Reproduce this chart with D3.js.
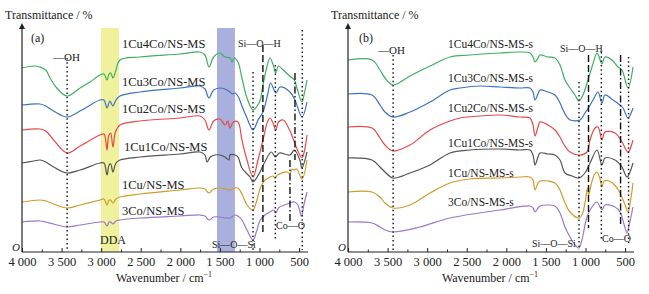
<!DOCTYPE html>
<html>
<head>
<meta charset="utf-8">
<script src="https://cdn.jsdelivr.net/npm/d3@7"></script>
<style>
body { margin: 0; background: #fff; }
text { font-family: "Liberation Serif", "DejaVu Serif", serif; fill: #222; }
</style>
</head>
<body>
<script>
// ---------- data: [wavenumber cm-1, transmittance (offset, a.u.)] ----------
var namesA = ["1Cu4Co/NS-MS", "1Cu3Co/NS-MS", "1Cu2Co/NS-MS", "1Cu1Co/NS-MS", "1Cu/NS-MS", "3Co/NS-MS"];
var namesB = ["1Cu4Co/NS-MS-s", "1Cu3Co/NS-MS-s", "1Cu2Co/NS-MS-s", "1Cu1Co/NS-MS-s", "1Cu/NS-MS-s", "3Co/NS-MS-s"];
var colors = ["#3fae61", "#3e72c4", "#e8484a", "#555555", "#d29b2b", "#9a78cc"];

var a_1Cu4Co = [[4000,184],[3850,186],[3773,185],[3700,182],[3646,174],[3560,164],[3432,156],[3267,164],[3141,170],[3015,177],[2964,178],[2926,172],[2900,178],[2880,179],[2851,174],[2813,182],[2762,192],[2510,195],[2004,198],[1752,200],[1689,197],[1638,185],[1580,195],[1500,199],[1436,195],[1373,194],[1347,190],[1320,194],[1272,190],[1222,174],[1158,154],[1082,142],[1030,146],[990,152],[956,167],[910,184],[868,194],[830,188],[795,179],[760,186],[700,182],[620,176],[560,172],[520,162],[465,150],[430,160],[400,172]];
var a_1Cu3Co = [[4000,147],[3773,148],[3700,146],[3600,141],[3432,135],[3267,141],[3015,152],[2964,152],[2926,144],[2890,151],[2851,146],[2813,152],[2762,156],[2510,160],[2004,164],[1752,166],[1689,163],[1638,154],[1580,162],[1500,164],[1436,163],[1373,160],[1347,158],[1310,159],[1272,156],[1222,146],[1158,134],[1082,122],[1019,132],[956,140],[893,159],[860,169],[792,159],[741,165],[615,160],[552,152],[463,135],[400,150]];
var a_1Cu2Co = [[4000,122],[3773,123],[3700,121],[3600,112],[3432,99],[3267,106],[3015,117],[2964,118],[2940,110],[2926,102],[2905,116],[2880,119],[2851,105],[2820,120],[2762,127],[2510,131],[2004,134],[1752,136],[1689,132],[1638,122],[1580,131],[1500,133],[1436,127],[1400,131],[1373,124],[1330,130],[1272,130],[1222,112],[1158,92],[1082,75],[1019,92],[956,112],[900,130],[868,134],[835,130],[792,122],[760,130],[700,132],[620,122],[560,110],[520,102],[463,94],[430,102],[400,117]];
var a_1Cu1Co = [[4000,89],[3850,91],[3773,92],[3700,90],[3600,85],[3432,79],[3267,82],[3015,89],[2964,89],[2926,77],[2900,87],[2880,88],[2851,80],[2813,89],[2762,92],[2510,95],[2004,98],[1752,100],[1689,97],[1663,90],[1620,95],[1562,97],[1500,97],[1436,95],[1385,92],[1373,97],[1310,97],[1272,95],[1222,84],[1120,75],[1082,70],[1000,79],[940,89],[850,100],[800,95],[750,99],[615,97],[560,102],[490,92],[465,84],[400,100]];
var a_1Cu = [[4000,50],[3773,52],[3700,51],[3600,48],[3432,44],[3267,47],[3015,52],[2964,53],[2926,47],[2900,52],[2880,52],[2851,49],[2813,53],[2762,55],[2510,58],[2004,62],[1752,64],[1689,63],[1638,59],[1580,63],[1500,64],[1436,63],[1373,62],[1310,64],[1272,64],[1222,58],[1158,47],[1082,42],[1040,50],[990,64],[930,72],[868,75],[830,76],[800,74],[770,77],[650,80],[615,78],[590,83],[560,82],[530,83],[463,73],[400,92]];
var a_3Co = [[4000,30],[3773,31],[3700,30],[3600,28],[3432,25],[3267,27],[3015,30],[2964,30],[2926,26],[2900,30],[2880,30],[2851,28],[2813,31],[2762,32],[2510,34],[2004,36],[1752,37],[1689,36],[1638,32],[1580,35],[1500,35],[1436,34],[1373,34],[1310,37],[1272,36],[1222,32],[1158,22],[1082,12],[1040,20],[990,32],[930,37],[868,40],[820,42],[792,39],[760,44],[650,48],[560,50],[515,47],[470,36],[440,47],[400,60]];

var b_1Cu4Co = [[4000,192],[3697,192],[3596,182],[3533,174],[3432,167],[3217,176],[2964,186],[2712,195],[2459,197],[2080,199],[1828,200],[1701,199],[1663,195],[1638,190],[1600,194],[1575,197],[1474,195],[1386,194],[1322,187],[1259,172],[1196,164],[1133,157],[1082,151],[1032,157],[969,172],[918,185],[855,199],[842,198],[792,188],[754,195],[665,192],[589,185],[539,182],[463,164],[400,185]];
var b_1Cu3Co = [[4000,158],[3697,157],[3596,147],[3533,140],[3432,135],[3217,140],[2964,150],[2712,162],[2585,164],[2333,166],[2080,165],[1828,164],[1701,164],[1663,160],[1638,152],[1600,158],[1575,162],[1474,160],[1386,157],[1322,149],[1284,142],[1234,135],[1196,132],[1070,132],[1007,139],[956,145],[905,152],[842,160],[792,149],[754,157],[653,152],[564,147],[526,144],[463,134],[400,144]];
var b_1Cu2Co = [[4000,125],[3697,124],[3596,114],[3533,107],[3432,101],[3217,107],[2964,122],[2712,131],[2585,134],[2333,136],[2080,137],[1828,135],[1701,134],[1663,127],[1638,116],[1600,125],[1575,130],[1474,127],[1386,122],[1322,115],[1284,109],[1196,100],[1070,97],[981,100],[943,112],[880,124],[842,125],[792,112],[754,120],[627,119],[539,110],[463,100],[400,112]];
var b_1Cu1Co = [[4000,94],[3697,92],[3596,85],[3533,80],[3432,74],[3217,79],[2964,87],[2712,99],[2459,102],[2080,103],[1828,102],[1701,102],[1663,97],[1638,87],[1600,95],[1575,99],[1474,98],[1386,97],[1322,92],[1259,79],[1171,76],[1082,74],[1007,79],[943,89],[855,102],[792,87],[754,94],[627,92],[539,85],[476,75],[400,89]];
var b_1Cu = [[4000,60],[3697,60],[3596,55],[3533,49],[3432,44],[3217,47],[2964,59],[2712,69],[2459,73],[2080,74],[1828,75],[1701,75],[1663,72],[1638,62],[1600,69],[1575,71],[1474,71],[1386,69],[1322,62],[1284,54],[1196,40],[1082,34],[1040,38],[1000,52],[975,64],[960,57],[930,67],[890,77],[855,80],[820,74],[792,65],[765,71],[700,71],[620,66],[564,59],[500,47],[463,40],[430,52],[400,69]];
var b_3Co = [[4000,30],[3697,29],[3596,25],[3533,22],[3432,20],[3091,25],[2712,34],[2080,42],[1701,46],[1663,44],[1638,40],[1600,44],[1575,46],[1474,47],[1386,46],[1322,39],[1259,25],[1196,15],[1120,6],[1082,4],[1045,12],[981,35],[918,45],[855,50],[792,42],[754,47],[627,45],[564,40],[500,24],[476,19],[440,30],[400,45]];

// band assignments (wavenumber) and reference lines [wavenumber, top, bottom, style]
var bandsA = [[3002, 2775, "#eff19c"], [1537, 1310, "#aab0dd"]];
var marksA = [[3430,194,2,"dot"],[1082,180,2,"dot"],[957,207,19,"dash"],[800,187,12,"dot"],[552,179,92,"dashdot"],[615,92,30,"dashdot"],[460,222,2,"dot"]];
var marksB = [[3430,197,2,"dot"],[1082,170,2,"dot"],[962,197,24,"dash"],[800,200,12,"dot"],[557,197,27,"dashdot"],[456,195,9,"dot"]];

var majorTicks = [4000, 3500, 3000, 2500, 2000, 1500, 1000, 500];
var minorTicks = [3750, 3250, 2750, 2250, 1750, 1250, 750];

// ---------- drawing ----------
var width = 649, height = 294;
var svg = d3.select('body').append('svg')
    .attr('width', width)
    .attr('height', height);

svg.append('defs').append('marker')
    .attr('id', 'arrow')
    .attr('viewBox', '0 0 10 10')
    .attr('refX', 5).attr('refY', 5)
    .attr('markerWidth', 5).attr('markerHeight', 7)
    .attr('orient', 'auto')
  .append('path')
    .attr('d', 'M0,0 L10,5 L0,10 Z')
    .attr('fill', '#222');

var y = d3.scaleLinear().domain([0, 224]).range([252, 28]);
var fmt = d3.formatLocale({decimal: ".", thousands: " ", grouping: [3], currency: ["", ""]}).format(",");

var dashes = {dot: "1.5,2.8", dash: "7,3", dashdot: "7,2.5,1.5,2.5"};

function drawPanel(p) {
    var x = d3.scaleLinear().domain([4000, 400]).range([p.left, p.left + 285]);
    var g = svg.append('g');

    p.bands.forEach(function (b) {
        g.append('rect')
            .attr('x', x(b[0])).attr('width', x(b[1]) - x(b[0]))
            .attr('y', y(224)).attr('height', y(0) - y(224))
            .attr('fill', b[2]);
    });

    var line = d3.line()
        .x(function (d) { return x(d[0]); })
        .y(function (d) { return y(d[1]); })
        .curve(d3.curveCatmullRom.alpha(0.5));

    g.selectAll('path.spec')
        .data(p.series)
      .enter().append('path')
        .attr('class', 'spec')
        .attr('d', line)
        .attr('fill', 'none')
        .attr('stroke', function (d, i) { return colors[i]; })
        .attr('stroke-width', 1.2);

    g.selectAll('line.mark')
        .data(p.marks)
      .enter().append('line')
        .attr('class', 'mark')
        .attr('x1', function (d) { return x(d[0]); })
        .attr('x2', function (d) { return x(d[0]); })
        .attr('y1', function (d) { return y(d[1]); })
        .attr('y2', function (d) { return y(d[2]); })
        .attr('stroke', '#111')
        .attr('stroke-width', 1.4)
        .attr('stroke-dasharray', function (d) { return dashes[d[3]]; });

    // x axis: ticks point inward
    var ax = g.append('g').attr('transform', 'translate(0,' + y(0) + ')')
        .call(d3.axisBottom(x).tickValues(majorTicks).tickFormat(fmt)
            .tickSizeInner(-4).tickSizeOuter(0).tickPadding(5));
    ax.select('.domain').attr('stroke', '#222').attr('stroke-width', 1.2)
        .attr('d', 'M' + p.left + ',0H' + (p.left + 286));
    ax.selectAll('.tick line').attr('stroke', '#222');
    ax.selectAll('text').style('font-size', '12.5px').attr('fill', '#222')
        .style('font-family', '"Liberation Serif", serif');

    var mx = g.append('g').attr('transform', 'translate(0,' + y(0) + ')')
        .call(d3.axisBottom(x).tickValues(minorTicks).tickFormat('')
            .tickSizeInner(-2.5).tickSizeOuter(0));
    mx.select('.domain').remove();
    mx.selectAll('.tick line').attr('stroke', '#222');

    // y axis with arrow
    g.append('line')
        .attr('x1', p.left).attr('x2', p.left)
        .attr('y1', y(0)).attr('y2', y(224) - 2)
        .attr('stroke', '#222').attr('stroke-width', 1.2)
        .attr('marker-end', 'url(#arrow)');

    g.append('text').attr('x', p.left - 10).attr('y', y(0) - 1)
        .style('font-style', 'italic').style('font-size', '11px').text('O');
    g.append('text').attr('x', p.left - 17).attr('y', 19)
        .style('font-size', '12px').text('Transmittance / %');
    g.append('text').attr('x', p.left + 142).attr('y', 282)
        .attr('text-anchor', 'middle').style('font-size', '12px')
        .html('Wavenumber / cm<tspan dy="-5" style="font-size:8px">\u22121</tspan>');

    p.labels.forEach(function (l) {
        g.append('text').attr('x', l[1]).attr('y', l[2])
            .style('font-size', l[3] + 'px').text(l[0]);
    });
}

drawPanel({
    left: 22,
    series: [a_1Cu4Co, a_1Cu3Co, a_1Cu2Co, a_1Cu1Co, a_1Cu, a_3Co],
    bands: bandsA,
    marks: marksA,
    labels: [
        ["(a)", 31, 42, 12], ["\u2014OH", 53, 61, 11],
        [namesA[0], 122, 48, 12.5], [namesA[1], 122, 86, 12.5], [namesA[2], 122, 113, 12.5],
        [namesA[3], 124, 151, 12.5], [namesA[4], 122, 189, 12.5], [namesA[5], 122, 215, 12.5],
        ["DDA", 100, 244, 12],
        ["Si\u2014O\u2014H", 238, 47, 10], ["Si\u2014O\u2014Si", 212, 248, 10], ["Co\u2014O", 276, 229, 10]
    ]
});

drawPanel({
    left: 348,
    series: [b_1Cu4Co, b_1Cu3Co, b_1Cu2Co, b_1Cu1Co, b_1Cu, b_3Co],
    bands: [],
    marks: marksB,
    labels: [
        ["(b)", 359, 42, 12], ["\u2014OH", 378, 54, 11],
        [namesB[0], 448, 48, 11.5], [namesB[1], 448, 82, 11.5], [namesB[2], 448, 112, 11.5],
        [namesB[3], 448, 147, 11.5], [namesB[4], 448, 177, 11.5], [namesB[5], 448, 206, 11.5],
        ["Si\u2014O\u2014H", 560, 52, 10], ["Si\u2014O\u2014Si", 532, 247, 10], ["Co\u2014O", 602, 242, 10]
    ]
});
</script>
</body>
</html>
